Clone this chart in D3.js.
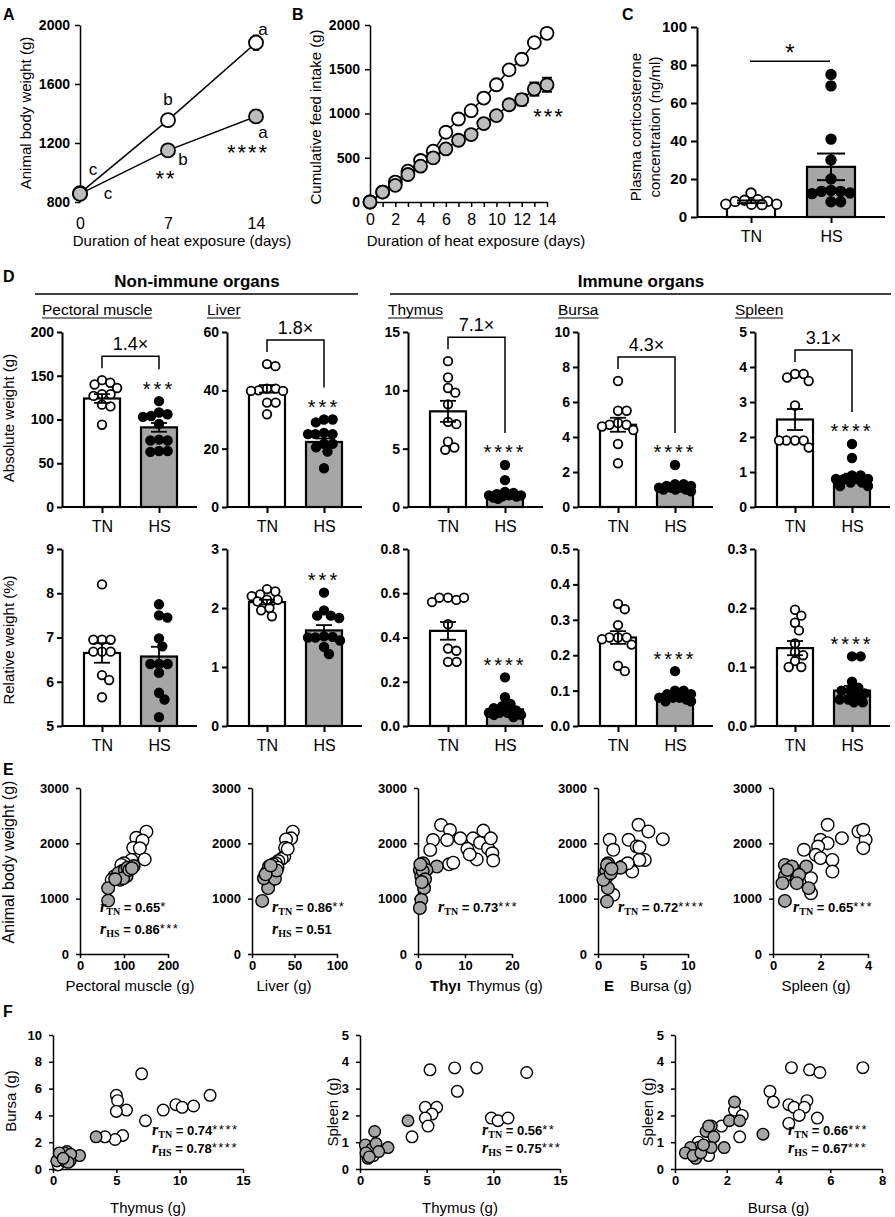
<!DOCTYPE html>
<html>
<head>
<meta charset="utf-8">
<script src="https://cdn.jsdelivr.net/npm/d3@7"></script>
<style>
body { margin: 0; background: #fff; }
text { font-family: "Liberation Sans", Arial, sans-serif; fill: #000; }
</style>
</head>
<body>
<svg id="fig" width="895" height="1217"></svg>
<script>
// ---------- A: body weight over time ----------
var daysA = [0, 7, 14];
var bwTN = [860, 1355, 1880];
var bwHS = [855, 1150, 1380];
var bwTNsem = [10, 20, 50];
var bwHSsem = [10, 20, 45];
var lettersTN = ["c", "b", "a"];
var lettersHS = ["c", "b", "a"];
var starsA = ["", "**", "****"];

// ---------- B: cumulative feed intake ----------
var daysB = [0, 1, 2, 3, 4, 5, 6, 7, 8, 9, 10, 11, 12, 13, 14];
var feedTN = [0, 112, 225, 349, 469, 574, 788, 938, 1032, 1174, 1325, 1493, 1613, 1801, 1906];
var feedHS = [0, 112, 188, 311, 405, 499, 600, 698, 762, 886, 976, 1099, 1156, 1276, 1325];
var feedHSsem = [0, 0, 0, 0, 0, 0, 0, 0, 0, 0, 0, 55, 65, 75, 80];

// ---------- C: plasma corticosterone ----------
var groups = ["TN", "HS"];
var corticoTN = [12.6, 9.1, 8.8, 8.2, 8.2, 6.7, 6.7, 6.7, 6.5];
var corticoHS = [75, 69, 41, 30, 20, 14, 13.5, 13.5, 12.6, 12.3, 8, 8];
var corticoMean = [8, 26.4];
var corticoSem = [0.7, 7];

// ---------- D: organ weights ----------
var organs = ["Pectoral muscle", "Liver", "Thymus", "Bursa", "Spleen"];
var foldChange = ["1.4×", "1.8×", "7.1×", "4.3×", "3.1×"];
var absStars = ["***", "***", "****", "****", "****"];
var relStars = ["", "***", "****", "****", "****"];
var absTicks = [[0, 50, 100, 150, 200], [0, 20, 40, 60], [0, 5, 10, 15], [0, 2, 4, 6, 8, 10], [0, 1, 2, 3, 4, 5]];
var relTicks = [[5, 6, 7, 8, 9], [0, 1, 2, 3], [0, 0.2, 0.4, 0.6, 0.8], [0, 0.1, 0.2, 0.3, 0.4, 0.5], [0, 0.1, 0.2, 0.3]];
var relTickDigits = [0, 0, 1, 1, 1];

var absTN = [
  [145, 142, 140, 136, 129, 129, 127, 117, 115, 94],
  [49, 48.3, 40.6, 40.6, 40, 39.8, 39.8, 35.8, 35.8, 31.8],
  [12.5, 11.1, 10.2, 9.8, 8.8, 7.3, 7.1, 5.6, 5.1, 4.9],
  [7.2, 5.5, 5.5, 4.8, 4.7, 4.7, 4.6, 4.4, 3.6, 2.5],
  [3.8, 3.8, 3.7, 3.6, 2.9, 1.9, 1.9, 1.9, 1.9, 1.7]
];
var absHS = [
  [121, 108, 106, 104, 103, 95, 77, 76, 76, 64, 64, 63],
  [30, 30, 29, 25.4, 25, 25, 21.7, 21.7, 20.5, 19, 13.3, 25],
  [3.6, 2.3, 1.3, 1.2, 1.1, 1.0, 1.0, 1.0, 0.9, 0.9, 0.8, 0.7],
  [2.4, 1.3, 1.3, 1.2, 1.2, 1.1, 1.1, 1.1, 1.0, 1.0, 1.0, 0.9],
  [1.8, 1.4, 0.9, 0.9, 0.8, 0.8, 0.8, 0.8, 0.7, 0.7, 0.6, 0.6]
];
var absMean = [[124, 91], [40.5, 22.3], [8.2, 1.2], [4.7, 1.1], [2.5, 0.85]];
var absSem = [[5, 5], [1.3, 1.2], [0.9, 0.2], [0.4, 0.1], [0.3, 0.1]];

var relTN = [
  [8.2, 6.95, 6.95, 6.95, 6.68, 6.68, 6.68, 6.15, 6.04, 5.65],
  [2.32, 2.28, 2.23, 2.2, 2.14, 2.14, 2.11, 2.0, 1.96, 1.86],
  [0.58, 0.57, 0.58, 0.56, 0.58, 0.46, 0.35, 0.34, 0.29, 0.29],
  [0.345, 0.33, 0.285, 0.25, 0.25, 0.25, 0.245, 0.23, 0.17, 0.155],
  [0.197, 0.187, 0.175, 0.162, 0.14, 0.125, 0.12, 0.11, 0.1, 0.1]
];
var relHS = [
  [7.75, 7.5, 7.45, 6.98, 6.8, 6.4, 6.4, 6.4, 6.2, 5.75, 5.6, 5.2],
  [2.26, 1.96, 1.87, 1.87, 1.83, 1.52, 1.51, 1.5, 1.5, 1.45, 1.34, 1.22],
  [0.22, 0.13, 0.1, 0.09, 0.08, 0.07, 0.06, 0.06, 0.06, 0.05, 0.05, 0.04],
  [0.155, 0.1, 0.1, 0.09, 0.09, 0.08, 0.08, 0.08, 0.075, 0.07, 0.07, 0.08],
  [0.118, 0.118, 0.075, 0.065, 0.06, 0.06, 0.055, 0.05, 0.045, 0.045, 0.04, 0.04]
];
var relMean = [[6.65, 6.57], [2.1, 1.62], [0.43, 0.075], [0.25, 0.08], [0.132, 0.06]];
var relSem = [[0.22, 0.22], [0.04, 0.09], [0.04, 0.015], [0.018, 0.008], [0.012, 0.008]];

// ---------- E: body weight vs organ weight ----------
var eOrganLabels = ["Pectoral muscle (g)", "Liver (g)", "Thymus (g)", "Bursa (g)", "Spleen (g)"];
var eXTicks = [[0, 100, 200], [0, 50, 100], [0, 10, 20], [0, 5, 10], [0, 2, 4]];
var eYTicks = [0, 1000, 2000, 3000];
var eTN = [
  [[151, 2210], [128, 2100], [142, 2050], [121, 1920], [136, 1910], [147, 1710], [117, 1700], [100, 1640], [108, 1560], [94, 1610], [78, 1400], [72, 1340], [96, 1500], [88, 1450]],
  [[48, 2210], [46, 2090], [40, 2070], [39, 1920], [38, 1760], [35, 1720], [31, 1680], [28, 1640], [25, 1620], [22, 1500], [30, 1560], [42, 1900]],
  [[4.9, 2330], [6.8, 2240], [3.2, 2060], [2.6, 1880], [6.2, 2060], [6.6, 1620], [9, 2090], [11.7, 2090], [13.2, 2010], [14.9, 1910], [15.8, 1820], [12.5, 1710], [7.5, 1650], [13.9, 2230], [15.5, 2090], [16, 1690], [10.5, 1900], [11, 1800]],
  [[4.5, 2335], [5.6, 2215], [3.4, 2064], [1.3, 2064], [4.3, 1943], [1.7, 1883], [5.2, 1700], [4.6, 1700], [3.8, 1490], [2.7, 1580], [1.7, 1070], [7.2, 2076], [3.3, 1640], [4.6, 1930]],
  [[2.3, 2335], [3.6, 2215], [3.9, 2064], [3.8, 1913], [2.9, 2094], [2.0, 2064], [2.3, 2003], [1.9, 1943], [1.3, 1883], [1.8, 1792], [2.0, 1732], [2.5, 1700], [2.5, 1490], [1.6, 1370], [1.6, 1098], [3.8, 2245]]
];
var eHS = [
  [[64, 965], [64, 1190], [91, 1340], [87, 1460], [102, 1520], [108, 1560], [122, 1590], [106, 1410], [98, 1370], [112, 1520], [80, 1350], [118, 1550]],
  [[12, 960], [19, 1190], [14, 1370], [18, 1490], [21, 1530], [25, 1420], [27, 1360], [20, 1580], [23, 1550], [29, 1510], [16, 1440], [22, 1600]],
  [[0.4, 1520], [1.1, 1640], [0.7, 1400], [1.3, 1190], [0.7, 980], [0.4, 830], [4, 1580], [1.8, 1520], [1, 1500], [0.5, 1620], [1.5, 1350], [0.8, 1300]],
  [[1.0, 950], [1.1, 1190], [1.0, 1400], [1.3, 1580], [1.6, 1520], [2.5, 1560], [0.9, 1500], [1.1, 1640], [0.6, 1340], [1.4, 1460], [1.0, 1610], [1.5, 1540]],
  [[0.5, 960], [1.5, 1190], [0.5, 1410], [1.4, 1580], [0.9, 1520], [0.5, 1610], [1.0, 1340], [0.8, 1580], [0.4, 1280], [1.1, 1430], [0.6, 1520], [1.0, 1280]]
];
var eR = [["0.65", "*", "0.86", "***"], ["0.86", "**", "0.51", ""], ["0.73", "***"], ["0.72", "****"], ["0.65", "***"]];

// ---------- F: organ vs organ ----------
var fXLabels = ["Thymus (g)", "Thymus (g)", "Bursa (g)"];
var fYLabels = ["Bursa (g)", "Spleen (g)", "Spleen (g)"];
var fXTicks = [[0, 5, 10, 15], [0, 5, 10, 15], [0, 2, 4, 6, 8]];
var fYTicks = [[0, 2, 4, 6, 8, 10], [0, 1, 2, 3, 4, 5], [0, 1, 2, 3, 4, 5]];
var fTN = [
  [[7.0, 7.1], [5.0, 5.5], [5.1, 5.1], [5.8, 4.4], [5.0, 4.3], [7.3, 3.6], [8.7, 4.4], [9.7, 4.8], [10.2, 4.6], [11.1, 4.7], [12.4, 5.5], [5.5, 2.5], [4.9, 2.2], [4.1, 2.4], [0.4, 0.3], [0.9, 0.6]],
  [[5.25, 3.7], [7.1, 3.77], [8.75, 3.77], [12.5, 3.6], [7.3, 2.9], [9.85, 1.9], [10.35, 1.8], [11.1, 1.9], [4.9, 2.3], [5.75, 2.3], [5.4, 2.05], [4.9, 1.9], [5.1, 1.6], [3.9, 1.2], [0.6, 0.6], [1.0, 0.5]],
  [[4.5, 3.78], [5.2, 3.7], [5.6, 3.6], [7.26, 3.78], [3.67, 2.9], [3.8, 2.5], [4.4, 2.4], [4.6, 2.3], [5.1, 2.55], [5.0, 2.3], [4.8, 2.0], [5.5, 1.9], [4.4, 1.7], [2.3, 2.2], [2.6, 2.0], [2.5, 1.2], [1.8, 1.6], [0.9, 1.0], [1.3, 0.5]]
];
var fHS = [
  [[3.4, 2.4], [2.1, 1.0], [1.1, 1.3], [0.6, 1.0], [1.35, 0.6], [0.3, 0.6], [0.7, 1.1], [0.9, 1.2], [1.4, 1.1], [1.2, 0.5], [0.5, 1.2], [0.8, 0.8]],
  [[3.6, 1.8], [1.1, 1.4], [2.1, 0.8], [1.1, 0.8], [0.5, 0.7], [0.6, 0.4], [0.4, 0.9], [0.9, 0.75], [1.2, 0.95], [0.45, 0.6], [1.4, 0.65], [0.7, 0.45]],
  [[2.3, 2.5], [2.1, 1.8], [2.5, 1.8], [3.4, 1.3], [1.2, 1.4], [1.4, 1.6], [1.5, 1.2], [1.9, 0.8], [1.4, 0.8], [0.9, 0.8], [0.8, 0.4], [0.6, 0.8], [0.4, 0.6], [0.7, 0.5], [1.0, 0.6], [1.3, 1.6], [1.1, 0.9]]
];
var fR = [["0.74", "****", "0.78", "****"], ["0.56", "**", "0.75", "***"], ["0.66", "***", "0.67", "***"]];

// ================= drawing =================
var FONT = '"Liberation Sans", Arial, sans-serif';
var SERIF = '"Liberation Serif", "Times New Roman", serif';
var GREY = "#a6a6a6";
var svg = d3.select("#fig");
var plain = function(d) { return d; };

function txt(x, y, s, size, weight, anchor) {
  return svg.append("text").attr("x", x).attr("y", y).attr("font-size", size)
    .attr("font-weight", weight || "normal").attr("text-anchor", anchor || "start").text(s);
}
function rtxt(x, y, s, size) {
  return svg.append("text").attr("transform", "translate(" + x + "," + y + ") rotate(-90)")
    .attr("font-size", size).attr("text-anchor", "middle").text(s);
}
function styleAxis(sel, size, weight, sw) {
  sel.select(".domain").attr("stroke-width", sw);
  sel.selectAll(".tick line").attr("stroke-width", sw);
  sel.selectAll(".tick text").attr("font-size", size).attr("font-weight", weight)
    .attr("font-family", FONT).attr("fill", "#000");
}
// stars: yc is the visual centre of the asterisks
function stars(x, yc, s, size, spacing) {
  if (!s) return;
  txt(x, yc + size * 0.57, s, size, "normal", "middle").attr("letter-spacing", spacing);
}
// beeswarm: horizontal offsets so dots of radius r overlap as little as possible within +-maxW
function swarm(vals, y, r, maxW) {
  var placed = [], d2 = 4 * r * r;
  function minDist(c, py) {
    return d3.min(placed, function(p) { var a = c - p.dx, b = py - p.y; return a * a + b * b; });
  }
  vals.forEach(function(v) {
    var py = y(v), cands = [0];
    placed.forEach(function(p) {
      var dy = Math.abs(p.y - py);
      if (dy < 2 * r) {
        var dx = Math.sqrt(d2 - dy * dy) + 0.05;
        cands.push(p.dx + dx, p.dx - dx);
      }
    });
    cands = cands.filter(function(c) { return Math.abs(c) <= maxW; });
    cands.sort(function(a, b) { return Math.abs(a) - Math.abs(b); });
    var best = cands.find(function(c) { return !placed.length || minDist(c, py) >= d2 - 0.2; });
    if (best === undefined) {
      var score = -1;
      for (var c = -maxW; c <= maxW; c += 0.5) {
        var m = minDist(c, py);
        if (m > score + 1e-6) { score = m; best = c; }
      }
    }
    placed.push({ dx: best, y: py, v: v });
  });
  return placed;
}

// panel letters
txt(3, 20, "A", 16, "bold");
txt(292, 20, "B", 16, "bold");
txt(622, 20, "C", 16, "bold");
txt(3, 282, "D", 16, "bold");
txt(3, 775, "E", 16, "bold");
txt(3, 1017, "F", 16, "bold");

// ---------- A ----------
(function() {
  var x = d3.scaleLinear().domain([0, 14]).range([80, 256]);
  var y = d3.scaleLinear().domain([800, 2000]).range([202, 25]);
  var ga = svg.append("g").attr("transform", "translate(80,0)")
    .call(d3.axisLeft(y).tickValues([800, 1200, 1600, 2000]).tickFormat(plain).tickSize(5).tickSizeOuter(0).tickPadding(5));
  styleAxis(ga, 14, "bold", 1.5);
  var gx = svg.append("g").attr("transform", "translate(0,202)")
    .call(d3.axisBottom(x).tickValues(daysA).tickFormat(plain).tickSize(0).tickPadding(16));
  gx.select(".domain").remove();
  styleAxis(gx, 16, "normal", 1);
  var line = d3.line().x(function(d, i) { return x(daysA[i]); }).y(function(d) { return y(d); });
  [[bwTN, bwTNsem, "#fff"], [bwHS, bwHSsem, "#bdbdbd"]].forEach(function(s) {
    svg.append("path").datum(s[0]).attr("d", line).attr("fill", "none").attr("stroke", "#000").attr("stroke-width", 1.5);
    s[0].forEach(function(v, i) {
      var cx = x(daysA[i]);
      svg.append("line").attr("x1", cx).attr("x2", cx).attr("y1", y(v - s[1][i])).attr("y2", y(v + s[1][i])).attr("stroke", "#000").attr("stroke-width", 1.5);
      [v - s[1][i], v + s[1][i]].forEach(function(e) {
        svg.append("line").attr("x1", cx - 3).attr("x2", cx + 3).attr("y1", y(e)).attr("y2", y(e)).attr("stroke", "#000").attr("stroke-width", 1.5);
      });
    });
    svg.selectAll(null).data(s[0]).enter().append("circle")
      .attr("cx", function(d, i) { return x(daysA[i]); }).attr("cy", function(d) { return y(d); })
      .attr("r", 7).attr("fill", s[2]).attr("stroke", "#000").attr("stroke-width", 1.8);
  });
  var offTN = [[13, -23], [0, -20], [7, -13]];
  var offHS = [[28, 0], [15, 10], [7, 17]];
  daysA.forEach(function(d, i) {
    txt(x(d) + offTN[i][0], y(bwTN[i]) + offTN[i][1] + 5, lettersTN[i], 17, "normal", "middle");
    txt(x(d) + offHS[i][0], y(bwHS[i]) + offHS[i][1] + 5, lettersHS[i], 17, "normal", "middle");
  });
  stars(x(7) - 2, y(bwHS[1]) + 23, starsA[1], 22, 2);
  stars(x(14) - 8, y(bwHS[2]) + 31, starsA[2], 22, 2);
  rtxt(31, 113, "Animal body weight (g)", 15);
  txt(182, 246, "Duration of heat exposure (days)", 15, "normal", "middle");
})();

// ---------- B ----------
(function() {
  var x = d3.scaleLinear().domain([0, 14]).range([370, 547]);
  var y = d3.scaleLinear().domain([0, 2000]).range([202, 25]);
  var ga = svg.append("g").attr("transform", "translate(370,0)")
    .call(d3.axisLeft(y).tickValues([0, 500, 1000, 1500, 2000]).tickFormat(plain).tickSize(5).tickSizeOuter(0).tickPadding(5));
  styleAxis(ga, 14, "bold", 1.5);
  var gx = svg.append("g").attr("transform", "translate(0,202)")
    .call(d3.axisBottom(x).tickValues(daysB).tickSize(5).tickSizeOuter(0).tickPadding(7)
      .tickFormat(function(d) { return d % 2 ? "" : d; }));
  styleAxis(gx, 16, "normal", 1.5);
  var line = d3.line().x(function(d, i) { return x(daysB[i]); }).y(function(d) { return y(d); });
  [[feedTN, null, "#fff"], [feedHS, feedHSsem, "#bdbdbd"]].forEach(function(s) {
    svg.append("path").datum(s[0]).attr("d", line).attr("fill", "none").attr("stroke", "#000").attr("stroke-width", 1.5);
    if (s[1]) s[0].forEach(function(v, i) {
      if (!s[1][i]) return;
      var cx = x(daysB[i]);
      svg.append("line").attr("x1", cx).attr("x2", cx).attr("y1", y(v - s[1][i])).attr("y2", y(v + s[1][i])).attr("stroke", "#000").attr("stroke-width", 1.8);
      [v - s[1][i], v + s[1][i]].forEach(function(e) {
        svg.append("line").attr("x1", cx - 5).attr("x2", cx + 5).attr("y1", y(e)).attr("y2", y(e)).attr("stroke", "#000").attr("stroke-width", 1.8);
      });
    });
    svg.selectAll(null).data(s[0]).enter().append("circle")
      .attr("cx", function(d, i) { return x(daysB[i]); }).attr("cy", function(d) { return y(d); })
      .attr("r", 6.5).attr("fill", s[2]).attr("stroke", "#000").attr("stroke-width", 1.8);
  });
  stars(x(14) + 2, y(feedHS[14]) + 27, "***", 22, 2);
  rtxt(321, 117, "Cumulative feed intake (g)", 15);
  txt(476, 246, "Duration of heat exposure (days)", 15, "normal", "middle");
})();

// ---------- C ----------
(function() {
  var y = d3.scaleLinear().domain([0, 100]).range([217, 27]);
  var x = d3.scalePoint().domain(groups).range([751, 831]);
  var bw = 48;
  [corticoTN, corticoHS].forEach(function(vals, i) {
    var cx = x(groups[i]);
    svg.append("rect").attr("x", cx - bw / 2).attr("y", y(corticoMean[i])).attr("width", bw)
      .attr("height", y(0) - y(corticoMean[i])).attr("fill", i ? GREY : "#fff").attr("stroke", "#000").attr("stroke-width", 2.2);
    swarm(vals, y, 4.8, 28).forEach(function(p) {
      svg.append("circle").attr("cx", cx + p.dx).attr("cy", p.y).attr("r", 4.8)
        .attr("fill", i ? "#000" : "#fff").attr("stroke", "#000").attr("stroke-width", 1.8);
    });
    var lo = corticoMean[i] - corticoSem[i], hi = corticoMean[i] + corticoSem[i];
    svg.append("line").attr("x1", cx).attr("x2", cx).attr("y1", y(lo)).attr("y2", y(hi)).attr("stroke", "#000").attr("stroke-width", 2);
    [lo, hi].forEach(function(e) {
      svg.append("line").attr("x1", cx - 14).attr("x2", cx + 14).attr("y1", y(e)).attr("y2", y(e)).attr("stroke", "#000").attr("stroke-width", 2);
    });
  });
  var ga = svg.append("g").attr("transform", "translate(697,0)")
    .call(d3.axisLeft(y).tickValues([0, 20, 40, 60, 80, 100]).tickFormat(plain).tickSize(6).tickSizeOuter(0).tickPadding(4));
  styleAxis(ga, 15, "bold", 2);
  svg.append("line").attr("x1", 697).attr("x2", 885).attr("y1", 217).attr("y2", 217).attr("stroke", "#000").attr("stroke-width", 2);
  var gx = svg.append("g").attr("transform", "translate(0,217)")
    .call(d3.axisBottom(x).tickSize(6).tickPadding(8));
  gx.select(".domain").remove();
  styleAxis(gx, 16, "normal", 2);
  svg.append("line").attr("x1", 750).attr("x2", 830).attr("y1", y(82)).attr("y2", y(82)).attr("stroke", "#000").attr("stroke-width", 1.5);
  stars(790, y(82) - 14, "*", 24, 0);
  rtxt(641, 127, "Plasma corticosterone", 15);
  rtxt(660, 127, "concentration (ng/ml)", 15);
})();

// ---------- D ----------
var dX0 = [62, 227, 408, 578, 755];
txt(197, 287, "Non-immune organs", 17, "bold", "middle");
txt(641, 287, "Immune organs", 17, "bold", "middle");
svg.append("line").attr("x1", 35).attr("x2", 358).attr("y1", 294).attr("y2", 294).attr("stroke", "#000").attr("stroke-width", 1.5);
svg.append("line").attr("x1", 390).attr("x2", 891).attr("y1", 294).attr("y2", 294).attr("stroke", "#000").attr("stroke-width", 1.5);
rtxt(14, 418, "Absolute weight (g)", 15);
rtxt(14, 640, "Relative weight (%)", 15);

function barPanel(x0, yTop, yBot, ticks, digits, tn, hs, mean, sem, starTxt, fold) {
  var y = d3.scaleLinear().domain([ticks[0], ticks[ticks.length - 1]]).range([yBot, yTop]);
  var x = d3.scalePoint().domain(groups).range([x0 + 40, x0 + 97]);
  var bw = 36, r = 4.3;
  [tn, hs].forEach(function(vals, i) {
    var cx = x(groups[i]);
    svg.append("rect").attr("x", cx - bw / 2).attr("y", y(mean[i])).attr("width", bw)
      .attr("height", yBot - y(mean[i])).attr("fill", i ? GREY : "#fff").attr("stroke", "#000").attr("stroke-width", 2.2);
    var lo = mean[i] - sem[i], hi = mean[i] + sem[i];
    swarm(vals, y, r, 16).forEach(function(p) {
      svg.append("circle").attr("cx", cx + p.dx).attr("cy", p.y).attr("r", r)
        .attr("fill", i ? "#000" : "#fff").attr("stroke", "#000").attr("stroke-width", 1.8);
    });
    svg.append("line").attr("x1", cx).attr("x2", cx).attr("y1", y(lo)).attr("y2", y(hi)).attr("stroke", "#000").attr("stroke-width", 1.8);
    [lo, hi].forEach(function(e) {
      svg.append("line").attr("x1", cx - 8).attr("x2", cx + 8).attr("y1", y(e)).attr("y2", y(e)).attr("stroke", "#000").attr("stroke-width", 1.8);
    });
  });
  var ga = svg.append("g").attr("transform", "translate(" + x0 + ",0)")
    .call(d3.axisLeft(y).tickValues(ticks).tickSize(5).tickSizeOuter(0).tickPadding(3)
      .tickFormat(function(d) { return d.toFixed(digits); }));
  styleAxis(ga, 14, "bold", 2);
  svg.append("line").attr("x1", x0).attr("x2", x0 + 135).attr("y1", yBot).attr("y2", yBot).attr("stroke", "#000").attr("stroke-width", 2);
  var gx = svg.append("g").attr("transform", "translate(0," + yBot + ")")
    .call(d3.axisBottom(x).tickSize(6).tickPadding(8));
  gx.select(".domain").remove();
  styleAxis(gx, 16, "normal", 2);
  var starC = y(d3.max(hs)) - 17;
  stars(x("HS"), starC, starTxt, 20, 3);
  if (fold) {
    var leftEnd = y(d3.max(tn)) - 12, top = leftEnd - 12, rightEnd = starC - 15;
    svg.append("path").attr("d", "M" + x("TN") + "," + leftEnd + "V" + top + "H" + x("HS") + "V" + rightEnd)
      .attr("fill", "none").attr("stroke", "#000").attr("stroke-width", 1.5);
    txt((x("TN") + x("HS")) / 2, top - 6, fold, 18, "normal", "middle");
  }
}
organs.forEach(function(o, k) {
  var x0 = dX0[k];
  var t = txt(x0 - 20, 315, o, 15.5, "normal");
  var w = t.node().getComputedTextLength();
  svg.append("line").attr("x1", x0 - 20).attr("x2", x0 - 20 + w).attr("y1", 318).attr("y2", 318).attr("stroke", "#000").attr("stroke-width", 1.2);
  barPanel(x0, 332, 507, absTicks[k], 0, absTN[k], absHS[k], absMean[k], absSem[k], absStars[k], foldChange[k]);
  barPanel(x0, 549, 726, relTicks[k], relTickDigits[k], relTN[k], relHS[k], relMean[k], relSem[k], relStars[k], null);
});

// ---------- correlation helpers ----------
function rLabel(x, yb, sub, val, st) {
  var t = svg.append("text").attr("x", x).attr("y", yb).attr("font-size", 13).attr("font-weight", "bold");
  t.append("tspan").attr("font-family", SERIF).attr("font-style", "italic").attr("font-size", 16).text("r");
  t.append("tspan").attr("font-family", SERIF).attr("font-size", 10).attr("dy", 3).text(sub);
  t.append("tspan").attr("dy", -3).text(" = " + val);
  if (st) t.append("tspan").attr("dy", -1).attr("font-weight", "normal").attr("font-size", 13).attr("letter-spacing", 1.5).text(st);
}
function scatter(x, y, tn, hs, r) {
  [[tn, "#fff"], [hs, GREY]].forEach(function(s) {
    svg.selectAll(null).data(s[0]).enter().append("circle")
      .attr("cx", function(d) { return x(d[0]); }).attr("cy", function(d) { return y(d[1]); })
      .attr("r", r).attr("fill", s[1]).attr("stroke", "#000").attr("stroke-width", 1.4);
  });
}
function scatterAxes(x, y, x0, yBot, xt, yt) {
  var ga = svg.append("g").attr("transform", "translate(" + x0 + ",0)")
    .call(d3.axisLeft(y).tickValues(yt).tickFormat(plain).tickSize(4).tickSizeOuter(0).tickPadding(7));
  styleAxis(ga, 13, "bold", 1.5);
  var gx = svg.append("g").attr("transform", "translate(0," + yBot + ")")
    .call(d3.axisBottom(x).tickValues(xt).tickFormat(plain).tickSize(4).tickSizeOuter(0).tickPadding(3));
  styleAxis(gx, 13, "bold", 1.5);
}

// ---------- E ----------
var eX0 = [80, 252, 418, 598, 773];
var eX1 = [168, 337, 512, 688, 868];
var eY = d3.scaleLinear().domain([0, 3000]).range([954, 788]);
rtxt(14, 862, "Animal body weight (g)", 16);
eTN.forEach(function(tn, k) {
  var xt = eXTicks[k];
  var x = d3.scaleLinear().domain([0, xt[xt.length - 1]]).range([eX0[k], eX1[k]]);
  scatterAxes(x, eY, eX0[k], 954, xt, eYTicks);
  scatter(x, eY, tn, eHS[k], 6.3);
  var lab = eR[k];
  rLabel(eX0[k] + 20, 912, "TN", lab[0], lab[1]);
  if (lab[2]) rLabel(eX0[k] + 20, 934, "HS", lab[2], lab[3]);
});
txt(130, 991, eOrganLabels[0], 15, "normal", "middle");
txt(284, 991, eOrganLabels[1], 15, "normal", "middle");
txt(430, 991, "Thyı", 15, "bold", "start");
txt(467, 991, eOrganLabels[2], 15, "normal", "start");
txt(604, 991, "E", 15, "bold", "start");
txt(630, 991, eOrganLabels[3], 15, "normal", "start");
txt(816, 991, eOrganLabels[4], 15, "normal", "middle");

// ---------- F ----------
var fX0 = [53, 360, 675];
var fX1 = [243, 560, 882];
var fTitleX = [16, 338, 653];
var fRX = [152, 482, 788];
fTN.forEach(function(tn, k) {
  var xt = fXTicks[k], yt = fYTicks[k];
  var x = d3.scaleLinear().domain([0, xt[xt.length - 1]]).range([fX0[k], fX1[k]]);
  var y = d3.scaleLinear().domain([0, yt[yt.length - 1]]).range([1169, 1035]);
  scatterAxes(x, y, fX0[k], 1169, xt, yt);
  scatter(x, y, tn, fHS[k], 5.8);
  rLabel(fRX[k], 1135, "TN", fR[k][0], fR[k][1]);
  rLabel(fRX[k], 1153, "HS", fR[k][2], fR[k][3]);
  txt((fX0[k] + fX1[k]) / 2, 1213, fXLabels[k], 15, "normal", "middle");
  rtxt(fTitleX[k], k ? 1112 : 1101, fYLabels[k], 15);
});
</script>
</body>
</html>
